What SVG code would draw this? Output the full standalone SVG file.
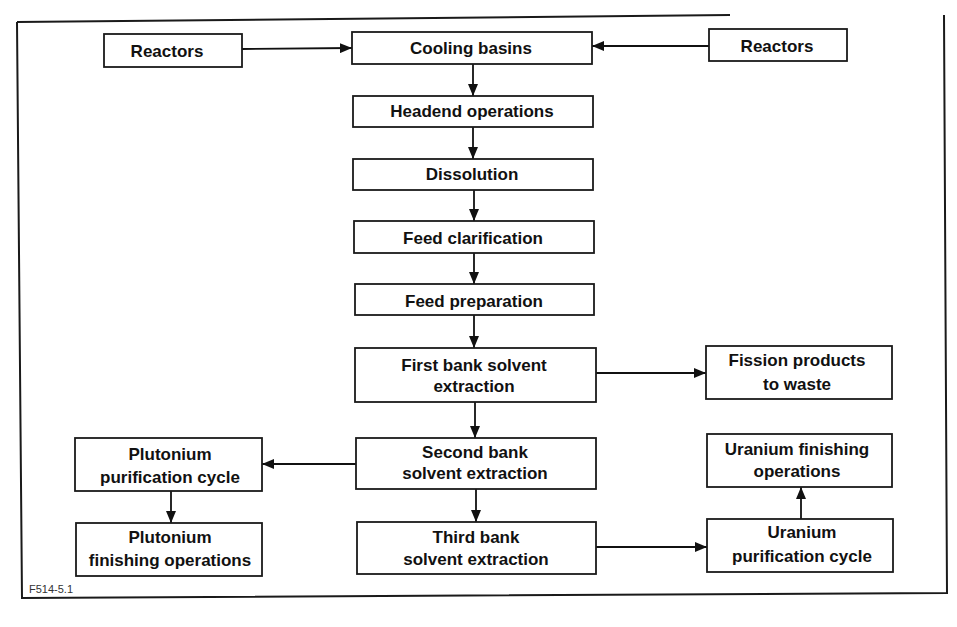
<svg xmlns="http://www.w3.org/2000/svg" width="957" height="627" viewBox="0 0 957 627">
<defs>
<style>
.box{fill:#fff;stroke:#1a1a1a;stroke-width:1.8}
.lbl{font-family:"Liberation Sans",Arial,sans-serif;font-weight:bold;font-size:17px;fill:#111;text-anchor:middle}
.con{stroke:#111;stroke-width:1.8;fill:none}
.frame{stroke:#1a1a1a;stroke-width:2;fill:none}
.tag{font-family:"Liberation Sans",Arial,sans-serif;font-size:11px;fill:#333}
</style>
<marker id="ah" markerUnits="userSpaceOnUse" markerWidth="12" markerHeight="10" refX="12" refY="5" orient="auto">
<path d="M0,0 L12,5 L0,10 Z" fill="#111"/>
</marker>
</defs>
<rect width="957" height="627" fill="#fff"/>
<g id="frame">
<path class="frame" d="M17,22 L730,15"/>
<path class="frame" d="M944,15 L947,593 L22,598 L17,22"/>
<text class="tag" x="29" y="593">F514-5.1</text>
</g>
<g id="connectors">
<line class="con" x1="242" y1="49" x2="352" y2="48" marker-end="url(#ah)"/>
<line class="con" x1="709" y1="46" x2="592" y2="46" marker-end="url(#ah)"/>
<line class="con" x1="473" y1="64" x2="473" y2="96" marker-end="url(#ah)"/>
<line class="con" x1="473" y1="127" x2="473" y2="159" marker-end="url(#ah)"/>
<line class="con" x1="474" y1="190" x2="474" y2="221" marker-end="url(#ah)"/>
<line class="con" x1="474" y1="253" x2="474" y2="284" marker-end="url(#ah)"/>
<line class="con" x1="474" y1="315" x2="474" y2="348" marker-end="url(#ah)"/>
<line class="con" x1="475" y1="402" x2="475" y2="438" marker-end="url(#ah)"/>
<line class="con" x1="476" y1="489" x2="476" y2="522" marker-end="url(#ah)"/>
<line class="con" x1="596" y1="373" x2="706" y2="373" marker-end="url(#ah)"/>
<line class="con" x1="356" y1="464" x2="262" y2="464" marker-end="url(#ah)"/>
<line class="con" x1="171" y1="491" x2="171" y2="523" marker-end="url(#ah)"/>
<line class="con" x1="596" y1="547" x2="707" y2="547" marker-end="url(#ah)"/>
<line class="con" x1="801" y1="519" x2="801" y2="487" marker-end="url(#ah)"/>
</g>
<g id="reactors-left">
<rect class="box" x="104" y="34" width="138" height="33"/>
<text class="lbl" x="167" y="57">Reactors</text>
</g>
<g id="cooling-basins">
<rect class="box" x="352" y="32" width="240" height="32"/>
<text class="lbl" x="471" y="54">Cooling basins</text>
</g>
<g id="reactors-right">
<rect class="box" x="709" y="29" width="138" height="32"/>
<text class="lbl" x="777" y="52">Reactors</text>
</g>
<g id="headend">
<rect class="box" x="353" y="96" width="240" height="31"/>
<text class="lbl" x="472" y="117">Headend operations</text>
</g>
<g id="dissolution">
<rect class="box" x="353" y="159" width="240" height="31"/>
<text class="lbl" x="472" y="180">Dissolution</text>
</g>
<g id="feed-clarification">
<rect class="box" x="354" y="221" width="240" height="32"/>
<text class="lbl" x="473" y="244">Feed clarification</text>
</g>
<g id="feed-preparation">
<rect class="box" x="355" y="284" width="239" height="31"/>
<text class="lbl" x="474" y="307">Feed preparation</text>
</g>
<g id="first-bank">
<rect class="box" x="355" y="348" width="241" height="54"/>
<text class="lbl" x="474" y="371">First bank solvent</text>
<text class="lbl" x="474" y="392">extraction</text>
</g>
<g id="second-bank">
<rect class="box" x="356" y="438" width="240" height="51"/>
<text class="lbl" x="475" y="458">Second bank</text>
<text class="lbl" x="475" y="479">solvent extraction</text>
</g>
<g id="third-bank">
<rect class="box" x="357" y="522" width="239" height="52"/>
<text class="lbl" x="476" y="543">Third bank</text>
<text class="lbl" x="476" y="565">solvent extraction</text>
</g>
<g id="fission-products">
<rect class="box" x="706" y="346" width="186" height="53"/>
<text class="lbl" x="797" y="366">Fission products</text>
<text class="lbl" x="797" y="390">to waste</text>
</g>
<g id="plutonium-purification">
<rect class="box" x="75" y="438" width="187" height="53"/>
<text class="lbl" x="170" y="460">Plutonium</text>
<text class="lbl" x="170" y="483">purification cycle</text>
</g>
<g id="plutonium-finishing">
<rect class="box" x="76" y="523" width="186" height="53"/>
<text class="lbl" x="170" y="543">Plutonium</text>
<text class="lbl" x="170" y="566">finishing operations</text>
</g>
<g id="uranium-finishing">
<rect class="box" x="707" y="434" width="185" height="53"/>
<text class="lbl" x="797" y="455">Uranium finishing</text>
<text class="lbl" x="797" y="477">operations</text>
</g>
<g id="uranium-purification">
<rect class="box" x="707" y="519" width="186" height="53"/>
<text class="lbl" x="802" y="538">Uranium</text>
<text class="lbl" x="802" y="562">purification cycle</text>
</g>
</svg>
